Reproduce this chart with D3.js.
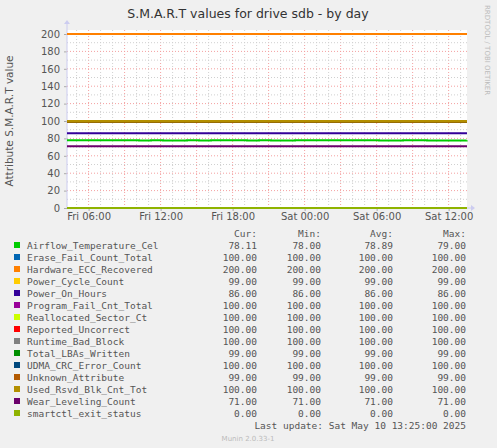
<!DOCTYPE html>
<html><head><meta charset="utf-8">
<script src="https://cdn.jsdelivr.net/npm/d3@7"></script>
<style>body{margin:0;background:#f0f0f0}</style>
</head><body><svg id="c" width="497" height="448"></svg>
<script>
const names = ["Airflow_Temperature_Cel","Erase_Fail_Count_Total","Hardware_ECC_Recovered","Power_Cycle_Count","Power_On_Hours","Program_Fail_Cnt_Total","Reallocated_Sector_Ct","Reported_Uncorrect","Runtime_Bad_Block","Total_LBAs_Written","UDMA_CRC_Error_Count","Unknown_Attribute","Used_Rsvd_Blk_Cnt_Tot","Wear_Leveling_Count","smartctl_exit_status"];
const colors = ["#00cc00","#0066b3","#ff8000","#ffcc00","#330099","#990099","#ccff00","#ff0000","#808080","#008f00","#00487d","#b35a00","#b38f00","#6b006b","#8fb300"];
const cur = [78.11,100,200,99,86,100,100,100,100,99,100,99,100,71,0];
const mins = [78,100,200,99,86,100,100,100,100,99,100,99,100,71,0];
const avgs = [78.89,100,200,99,86,100,100,100,100,99,100,99,100,71,0];
const maxs = [79,100,200,99,86,100,100,100,100,99,100,99,100,71,0];
// airflow samples (hours from start), the rest are flat
const airHours = [0,5,6,7,8,9,10,11,12,13,14,15,16,17,18,19,20,22,24,26,28,30,33.3];
const airVals  = [78,78,77.5,78,77.5,77.5,78,77.5,78,78,78,77.5,78,77.5,77.5,78,78,78,78,77.5,78,77.5,78];
const yTicks = [0,20,40,60,80,100,120,140,160,180,200];
const xTicks = ["Fri 06:00","Fri 12:00","Fri 18:00","Sat 00:00","Sat 06:00","Sat 12:00"];

const svg = d3.select('#c');
const L = 67, R = 467, T = 34, B = 208;
const t0 = new Date(2025,4,9,4,12), t1 = new Date(t0.getTime()+33.33*3600e3);
const x = d3.scaleTime().domain([t0,t1]).range([L,R]);
const y = d3.scaleLinear().domain([0,200]).range([B,T]);

svg.append('rect').attr('x',L).attr('y',T-4).attr('width',R-L).attr('height',B-T+4).attr('fill','#fff');

// minor grid
x.ticks(d3.timeHour.every(1)).forEach(d=>{
  svg.append('line').attr('x1',x(d)).attr('x2',x(d)).attr('y1',T-4).attr('y2',B)
    .attr('stroke', d.getHours()%3==0 ? '#f4a0a0' : '#d0d0d0').attr('stroke-dasharray','1,2');
});
d3.range(0,201,10).forEach(v=>{
  svg.append('line').attr('x1',L).attr('x2',R).attr('y1',y(v)).attr('y2',y(v))
    .attr('stroke', v%20==0 ? '#f4a0a0' : '#d0d0d0').attr('stroke-dasharray','1,2');
});

const yAxis = svg.append('g').attr('transform',`translate(${L},0)`)
  .call(d3.axisLeft(y).tickValues(yTicks).tickSize(3).tickPadding(4));
yAxis.select('.domain').remove();
yAxis.selectAll('text').attr('font-family','DejaVu Sans').attr('font-size',10).attr('fill','#555');
yAxis.selectAll('line').attr('stroke','#aaa');

const xt = xTicks.map((s,i)=>new Date(2025,4,9,6+6*i));
const xAxis = svg.append('g').attr('transform',`translate(0,${B})`)
  .call(d3.axisBottom(x).tickValues(xt).tickFormat((d,i)=>xTicks[i]).tickSize(3).tickPadding(2));
xAxis.select('.domain').remove();
xAxis.selectAll('text').attr('font-family','DejaVu Sans').attr('font-size',10).attr('fill','#555');
xAxis.selectAll('line').attr('stroke','#aaa');

svg.append('line').attr('x1',L).attr('x2',R+4).attr('y1',B).attr('y2',B).attr('stroke','#ccccf0');
svg.append('line').attr('x1',L).attr('x2',L).attr('y1',B).attr('y2',T-10).attr('stroke','#ccccf0');
svg.append('path').attr('d',`M${R+4},${B-3}L${R+8},${B}L${R+4},${B+3}Z`).attr('fill','#ccccf0');
svg.append('path').attr('d',`M${L-3},${T-10}L${L},${T-14}L${L+3},${T-10}Z`).attr('fill','#ccccf0');

const line = d3.line().x(d=>x(d[0])).y(d=>y(d[1])).curve(d3.curveStepAfter);
names.forEach((n,i)=>{
  const pts = i==0 ? airHours.map((h,j)=>[new Date(t0.getTime()+h*3600e3),airVals[j]])
                   : [[t0,cur[i]],[t1,cur[i]]];
  svg.append('path').attr('d',line(pts)).attr('fill','none').attr('stroke',colors[i]).attr('stroke-width',2);
});

svg.append('text').attr('x',248).attr('y',18).attr('text-anchor','middle').attr('font-family','DejaVu Sans')
  .attr('font-size',12.5).attr('fill','#333').text('S.M.A.R.T values for drive sdb - by day');
svg.append('text').attr('transform',`translate(13,${(T+B)/2}) rotate(-90)`).attr('text-anchor','middle')
  .attr('font-family','DejaVu Sans').attr('font-size',10.5).attr('fill','#555').text('Attribute S.M.A.R.T value');
svg.append('text').attr('transform',`translate(485,5) rotate(90)`).attr('font-family','DejaVu Sans')
  .attr('font-size',7).attr('fill','#bbb').text('RRDTOOL / TOBI OETIKER');

const mono = 'DejaVu Sans Mono', cols = [257,321,393,466];
['Cur:','Min:','Avg:','Max:'].forEach((h,i)=>svg.append('text').attr('x',cols[i]).attr('y',237)
  .attr('text-anchor','end').attr('font-family',mono).attr('font-size',9.5).attr('fill','#555').text(h));
names.forEach((n,i)=>{
  const yy = 249 + i*12;
  svg.append('rect').attr('x',14).attr('y',yy-7).attr('width',6).attr('height',6).attr('fill',colors[i]);
  svg.append('text').attr('x',27).attr('y',yy).attr('font-family',mono).attr('font-size',9.5).attr('fill','#555').text(n);
  [cur,mins,avgs,maxs].forEach((a,k)=>svg.append('text').attr('x',cols[k]).attr('y',yy).attr('text-anchor','end')
    .attr('font-family',mono).attr('font-size',9.5).attr('fill','#555').text(a[i].toFixed(2)));
});
svg.append('text').attr('x',466).attr('y',429).attr('text-anchor','end').attr('font-family',mono)
  .attr('font-size',9.5).attr('fill','#555').text('Last update:  Sat May 10 13:25:00 2025');
svg.append('text').attr('x',248).attr('y',441).attr('text-anchor','middle').attr('font-family','DejaVu Sans')
  .attr('font-size',7).attr('fill','#bbb').text('Munin 2.0.33-1');
</script></body></html>
